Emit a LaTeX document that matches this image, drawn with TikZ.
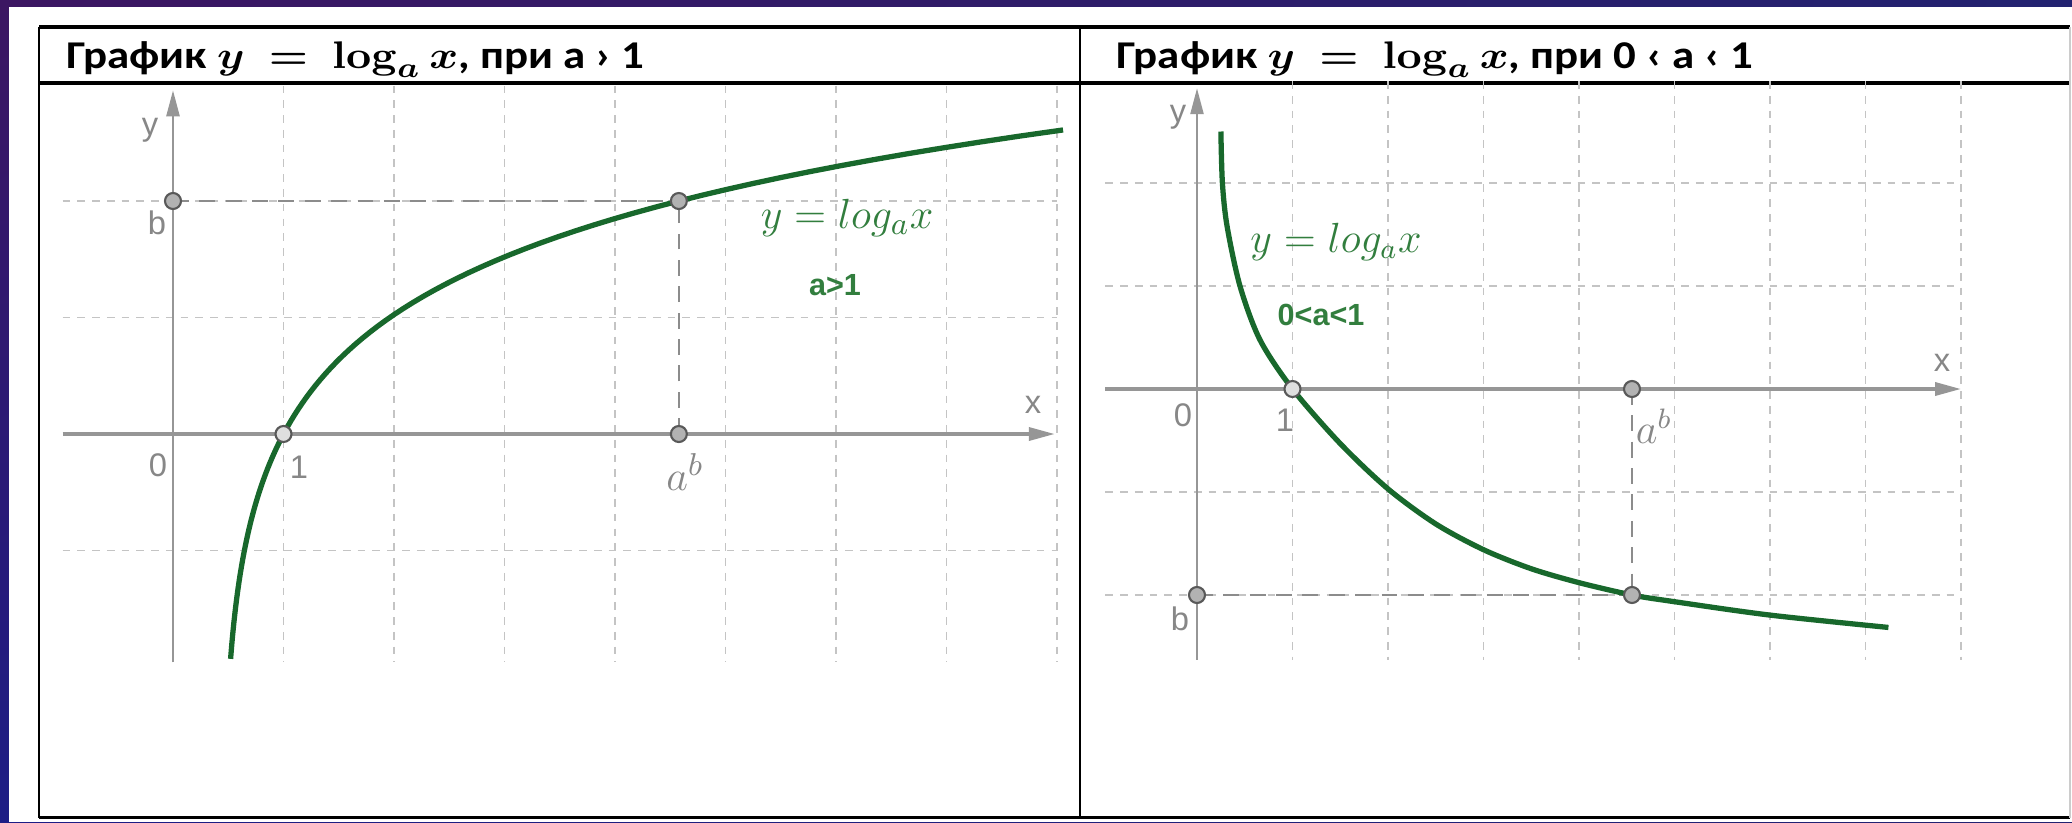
\documentclass[tikz,border=0pt]{standalone}
\usepackage{amsmath}
\usepackage[no-math]{fontspec}
\newfontfamily\hdrfont{Carlito}
\newfontfamily\lblfont{Liberation Sans}
\usetikzlibrary{arrows.meta,shadings}
\definecolor{bgpurple}{RGB}{60,22,98}
\definecolor{bgnavy}{RGB}{34,34,112}
\definecolor{crvgreen}{RGB}{24,104,44}
\definecolor{txtgreen}{RGB}{50,126,62}
\definecolor{gridgray}{RGB}{196,196,196}
\definecolor{axgray}{RGB}{150,150,150}
\definecolor{lblgray}{RGB}{135,135,135}

\begin{document}
\begin{tikzpicture}[y=-1cm,
  >={Triangle[length=2.6mm,width=1.3mm]},
  rej/.style={gridgray,line width=0.5pt,dash pattern=on 2.2pt off 2pt},
  eje/.style={->,axgray,line width=1pt},
  guia/.style={gray!90,line width=0.6pt,dash pattern=on 4.5pt off 3pt},
  pto/.style={circle,draw=black!65,fill=gray!60,line width=0.6pt,inner sep=0pt,minimum size=1.6mm},
  lbl/.style={text=lblgray,font=\lblfont\fontsize{9.3}{11}\selectfont,inner sep=0pt},
  crv/.style={crvgreen,line width=1.5pt},
  hdr/.style={font=\hdrfont\bfseries\fontsize{11.2}{13}\selectfont,inner sep=0pt,anchor=base west,
              xscale=1.14,transform shape},
  ftag/.style={text=txtgreen,inner sep=0pt},
  ctag/.style={text=txtgreen,font=\lblfont\bfseries\fontsize{8.7}{10}\selectfont,inner sep=0pt}
]
  \useasboundingbox (0,0) rectangle (20.72,8.22);

  % slide frame
  \shade[upper left=bgpurple,upper right=bgnavy,lower left=bgnavy!85!blue,lower right=bgnavy]
    (0,0) rectangle (20.72,8.22);
  \fill[white] (0.09,0.07) rectangle (20.72,8.22);

  % table
  \draw[line width=0.9pt] (0.39,0.27) -- (20.70,0.27);
  \draw[line width=0.9pt] (0.39,0.83) -- (20.70,0.83);
  \draw[line width=0.9pt] (0.39,8.175) -- (20.70,8.175);
  \draw[line width=0.6pt] (0.39,0.27) -- (0.39,8.175);
  \draw[line width=0.6pt] (10.80,0.27) -- (10.80,8.175);
  \draw[gray!40,line width=0.6pt] (20.70,0.27) -- (20.70,8.175);

  \node[hdr] (hL) at (0.655,0.68) {График {\boldmath$y\ =\ \log_a x$}, при a › 1};
  \node[hdr] (hR) at (11.16,0.68) {График {\boldmath$y\ =\ \log_a x$}, при 0 ‹ a ‹ 1};

  % left graph, a > 1
  \begin{scope}[shift={(1.73,4.34)},x=1.105cm,y=1.165cm]
    \foreach \i in {1,...,8} \draw[rej] (\i,2.99) -- (\i,-1.96);
    \foreach \j in {-1,1,2} \draw[rej] (-1,\j) -- (8,\j);
    \coordinate (lb) at (0,2);
    \coordinate (lP) at (4.578,2);
    \coordinate (lab) at (4.578,0);
    \coordinate (l1) at (1,0);
    \draw[guia] (lb) -- (lP);
    \draw[guia] (lab) -- (lP);
    \draw[eje] (-1,0) -- (7.98,0);
    \draw[eje,line width=0.7pt] (0,-1.96) -- (0,2.95);
    \draw[crv] plot[domain=-1.93:2.61,samples=90,variable=\t] ({0.44+0.56*exp(\t)},{\t});
    \node[pto] (lbp) at (lb) {};
    \node[pto] (lPp) at (lP) {};
    \node[pto] (labp) at (lab) {};
    \node[pto,fill=gray!25] (l1p) at (l1) {};
  \end{scope}
  \node[lbl] (ly) at (1.50,1.30) {y};
  \node[lbl] (lx) at (10.33,4.05) {x};
  \node[lbl] (l0) at (1.58,4.65) {0};
  \node[lbl] (lone) at (2.99,4.67) {1};
  \node[lbl] (lbt) at (1.57,2.23) {b};
  \node[text=lblgray,inner sep=0pt,font=\fontsize{13}{15}\selectfont] (lat) at (6.85,4.72) {$a^b$};
  \node[ftag,font=\fontsize{13}{15}\selectfont] (lf) at (8.47,2.18) {$y=log_a x$};
  \node[ctag] (lc) at (8.35,2.85) {a>1};

  % right graph, 0 < a < 1
  \begin{scope}[shift={(11.97,3.89)},x=0.955cm,y=1.03cm]
    \foreach \i in {1,...,8} \draw[rej] (\i,2.99) -- (\i,-2.63);
    \foreach \j in {-2,-1,1,2} \draw[rej] (-0.96,\j) -- (8,\j);
    \coordinate (rb) at (0,-2);
    \coordinate (rP) at (4.555,-2);
    \coordinate (rab) at (4.555,0);
    \coordinate (r1) at (1,0);
    \draw[guia] (rb) -- (rP);
    \draw[guia] (rab) -- (rP);
    \draw[eje] (-0.96,0) -- (8,0);
    \draw[eje,line width=0.7pt] (0,-2.63) -- (0,2.92);
    \draw[crv] plot[smooth] coordinates {(0.25,2.50) (0.266,2.0) (0.315,1.58) (0.45,1.0)
      (0.66,0.476) (1,0) (1.5,-0.53) (2,-0.97) (2.5,-1.31) (3,-1.56) (3.5,-1.745)
      (4,-1.88) (4.555,-2.0) (5,-2.065) (6,-2.195) (7.24,-2.315)};
    \node[pto] (rbp) at (rb) {};
    \node[pto] (rPp) at (rP) {};
    \node[pto] (rabp) at (rab) {};
    \node[pto,fill=gray!25] (r1p) at (r1) {};
  \end{scope}
  \node[lbl] (ry) at (11.78,1.17) {y};
  \node[lbl] (rx) at (19.42,3.63) {x};
  \node[lbl] (r0) at (11.83,4.15) {0};
  \node[lbl] (rone) at (12.85,4.20) {1};
  \node[lbl] (rbt) at (11.80,6.19) {b};
  \node[text=lblgray,inner sep=0pt,font=\fontsize{12}{14}\selectfont] (rat) at (16.54,4.26) {$a^b$};
  \node[ftag,font=\fontsize{11.5}{14}\selectfont] (rf) at (13.36,2.42) {$y=log_a x$};
  \node[ctag] (rc) at (13.21,3.15) {0<a<1};
\end{tikzpicture}
\end{document}
